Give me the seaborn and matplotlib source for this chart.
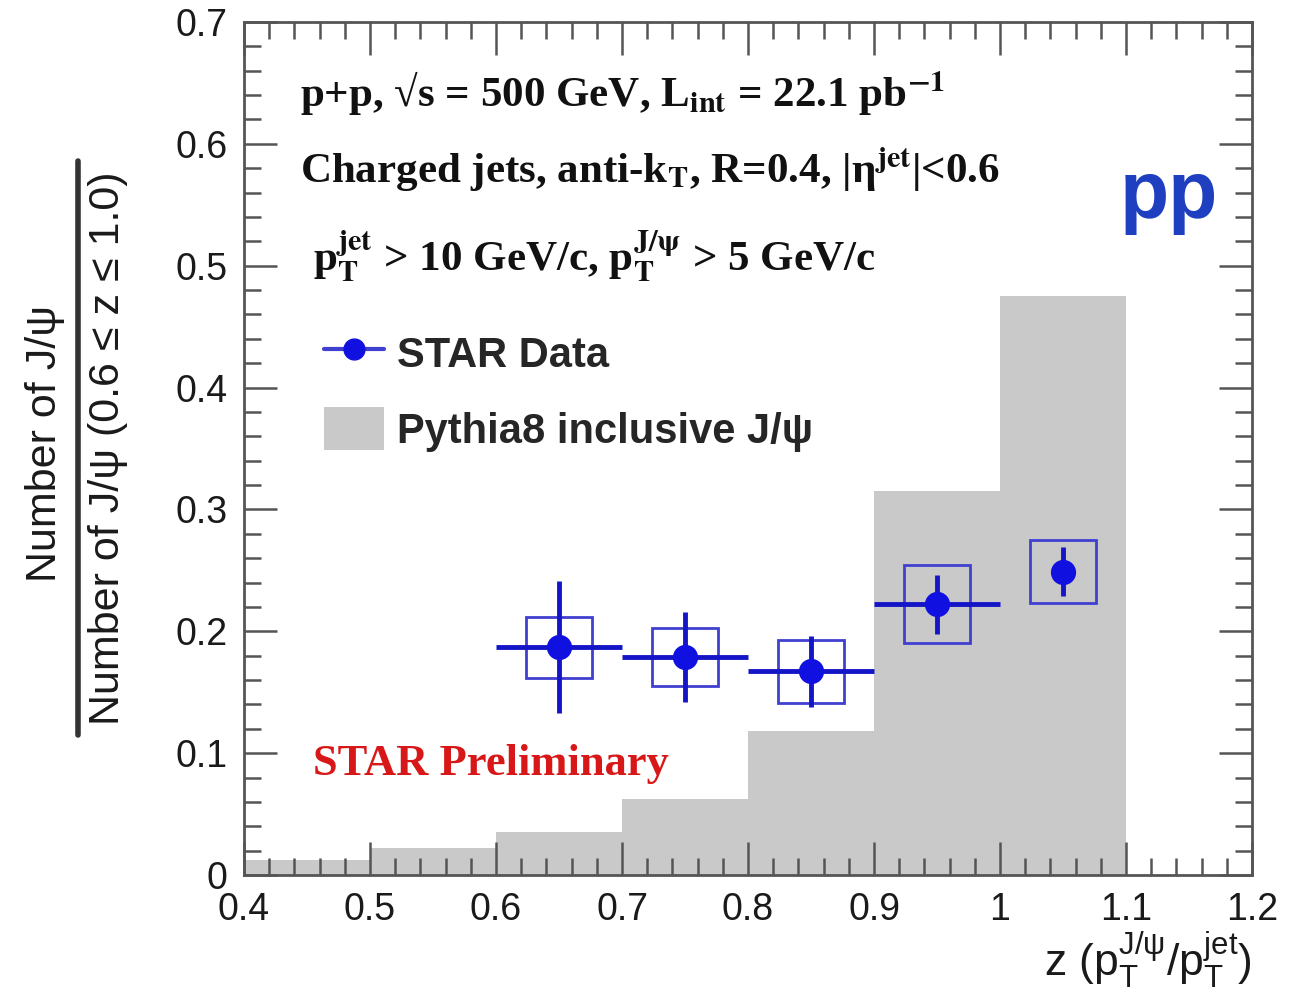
import numpy as np
import pandas as pd
import seaborn as sns
import matplotlib
matplotlib.use("Agg")
import matplotlib.pyplot as plt
from matplotlib.ticker import MultipleLocator, FixedLocator, FixedFormatter
from matplotlib.lines import Line2D
from matplotlib.patches import Patch

# Pythia8 inclusive J/psi: z-bin edges and normalised yields
pythia_edges = [0.4, 0.5, 0.6, 0.7, 0.8, 0.9, 1.0, 1.1]
pythia_yield = [0.012, 0.022, 0.035, 0.062, 0.118, 0.315, 0.475]

# STAR data points
star_z = [0.65, 0.75, 0.85, 0.95, 1.05]
star_val = [0.187, 0.179, 0.167, 0.222, 0.249]
star_stat = [0.054, 0.037, 0.029, 0.024, 0.020]
star_sys = [0.025, 0.024, 0.026, 0.032, 0.026]
star_xerr = [0.05, 0.05, 0.05, 0.05, 0.0]
sys_box_half_width = 0.026

x_ticks = [0.4, 0.5, 0.6, 0.7, 0.8, 0.9, 1.0, 1.1, 1.2]
x_tick_labels = ["0.4", "0.5", "0.6", "0.7", "0.8", "0.9", "1", "1.1", "1.2"]
y_ticks = [0.0, 0.1, 0.2, 0.3, 0.4, 0.5, 0.6, 0.7]
y_tick_labels = ["0", "0.1", "0.2", "0.3", "0.4", "0.5", "0.6", "0.7"]

sns.set_theme(style="ticks")
plt.rcParams["font.family"] = ["Liberation Sans", "DejaVu Sans"]
plt.rcParams["mathtext.fontset"] = "custom"
plt.rcParams["mathtext.rm"] = "Liberation Sans"
plt.rcParams["mathtext.it"] = "Liberation Sans"
plt.rcParams["mathtext.bf"] = "Liberation Sans:bold"

W, H = 1309, 1006
fig = plt.figure(figsize=(W / 100, H / 100), dpi=100)
ax = fig.add_axes([244 / W, 1 - 875 / H, (1252 - 244) / W, (875 - 22) / H])
ax.set_axisbelow(False)

# Pythia histogram via seaborn weighted histplot
centers = [(a + b) / 2 for a, b in zip(pythia_edges[:-1], pythia_edges[1:])]
hist_df = pd.DataFrame({"z": centers, "w": pythia_yield})
sns.histplot(data=hist_df, x="z", weights="w", bins=pythia_edges, ax=ax,
             element="bars", fill=True, color="#c9c9c9", alpha=1.0,
             linewidth=0, zorder=1)

blue = "#1010e0"
box_blue = "#4040d0"

# systematic boxes
sys_arr = np.array(star_sys)
val_arr = np.array(star_val)
ax.bar(star_z, 2 * sys_arr, bottom=val_arr - sys_arr, width=2 * sys_box_half_width,
       fill=False, edgecolor=box_blue, linewidth=2.0, zorder=3)

# statistical error bars and markers
ax.errorbar(star_z, star_val, yerr=star_stat, xerr=star_xerr, fmt="none",
            ecolor="#1515c8", elinewidth=3.5, capsize=0, zorder=4)
sns.scatterplot(x=star_z, y=star_val, ax=ax, color=blue, s=330,
                edgecolor=blue, linewidth=0, zorder=5, legend=False)

ax.set_xlim(0.4, 1.2)
ax.set_ylim(0.0, 0.7)
ax.xaxis.set_major_locator(FixedLocator(x_ticks))
ax.xaxis.set_major_formatter(FixedFormatter(x_tick_labels))
ax.yaxis.set_major_locator(FixedLocator(y_ticks))
ax.yaxis.set_major_formatter(FixedFormatter(y_tick_labels))
ax.xaxis.set_minor_locator(MultipleLocator(0.02))
ax.yaxis.set_minor_locator(MultipleLocator(0.02))
ax.tick_params(which="both", direction="in", top=True, right=True,
               color="#555555", width=1.8)
ax.tick_params(which="major", length=24, labelsize=27, pad=12, labelcolor="#1a1a1a")
ax.tick_params(which="minor", length=12)
for s in ax.spines.values():
    s.set_color("#555555")
    s.set_linewidth(2.0)
ax.set_xlabel("")
ax.set_ylabel("")

# axis titles
fig.text(1252 / W, 1 - 976 / H,
         r"z ($\mathrm{p}_\mathrm{T}^{\mathrm{J}/\psi}$/$\mathrm{p}_\mathrm{T}^{\mathrm{jet}}$)",
         ha="right", va="baseline", fontsize=32, color="#1a1a1a")
fig.text(45 / W, 1 - 443 / H, "Number of J/ψ", rotation=90,
         ha="center", va="center", fontsize=31, color="#1a1a1a")
fig.text(108 / W, 1 - 448 / H, "Number of J/ψ (0.6 ≤ z ≤ 1.0)", rotation=90,
         ha="center", va="center", fontsize=31, color="#1a1a1a")
fig.add_artist(Line2D([78 / W, 78 / W], [1 - 161 / H, 1 - 735 / H],
                      transform=fig.transFigure, color="#333333", linewidth=4))

# run / selection annotations
serif = ["Liberation Serif", "DejaVu Serif"]
ann_size = 31
ax.text(0.0556, 0.900,
        r"p+p, √s = 500 GeV, L$_{\mathbf{int}}$ = 22.1 pb$^{\mathbf{-1}}$",
        transform=ax.transAxes, family=serif, fontweight="bold", fontsize=ann_size,
        math_fontfamily="stix", va="baseline", ha="left", color="#111111")
ax.text(0.0556, 0.811,
        r"Charged jets, anti-k$_{\mathbf{T}}$, R=0.4, |η$^{\mathbf{jet}}$|<0.6",
        transform=ax.transAxes, family=serif, fontweight="bold", fontsize=ann_size,
        math_fontfamily="stix", va="baseline", ha="left", color="#111111")
ax.text(0.068, 0.709,
        r"p$_{\mathbf{T}}^{\mathbf{jet}}$ > 10 GeV/c, p$_{\mathbf{T}}^{\mathbf{J/\psi}}$ > 5 GeV/c",
        transform=ax.transAxes, family=serif, fontweight="bold", fontsize=ann_size,
        math_fontfamily="stix", va="baseline", ha="left", color="#111111")

ax.text(0.966, 0.795, "pp", transform=ax.transAxes, ha="right", va="center",
        fontsize=58, fontweight="bold", color="#1e3fbf")
ax.text(0.068, 0.117, "STAR Preliminary", transform=ax.transAxes,
        family=serif, fontweight="bold", fontsize=32, color="#d81818",
        va="baseline", ha="left")

# legend
handles = [
    Line2D([0], [0], color=box_blue, linewidth=3, marker="o", markersize=15,
           markerfacecolor=blue, markeredgecolor=blue),
    Patch(facecolor="#c9c9c9", edgecolor="none"),
]
ax.legend(handles, ["STAR Data", "Pythia8 inclusive J/ψ"],
          loc="upper left", bbox_to_anchor=(0.079, 0.637), frameon=False,
          prop={"family": ["Liberation Sans", "DejaVu Sans"], "weight": "bold", "size": 30},
          handlelength=1.45, handleheight=1.2, handletextpad=0.3,
          labelspacing=0.75, borderpad=0, borderaxespad=0)

fig.savefig("out.png", dpi=100, facecolor="white")
